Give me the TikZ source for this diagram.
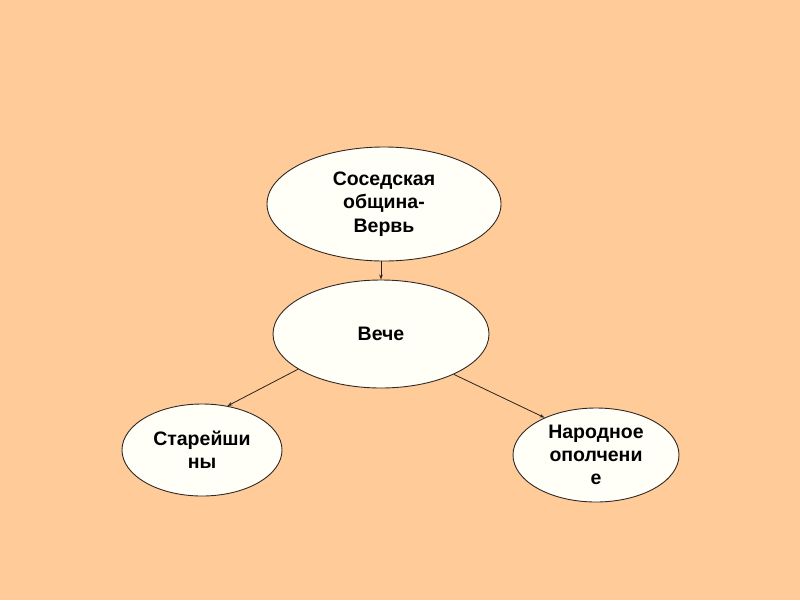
\documentclass[tikz,border=0pt]{standalone}
\usepackage{fontspec}
\setmainfont{Liberation Sans}
\usetikzlibrary{shapes.geometric,arrows.meta}
\definecolor{peach}{RGB}{255,204,153}
\definecolor{cream}{RGB}{255,255,248}
\definecolor{edge}{RGB}{50,40,35}
\tikzset{
  oval/.style={ellipse, draw=edge, line width=0.9pt, fill=cream, inner sep=0pt, align=center,
    font=\fontsize{19.5}{23.3}\selectfont\bfseries},
  link/.style={draw=edge!85!black, line width=0.8pt, -{Stealth[length=5pt,width=3.5pt]}}
}
\begin{document}
\begin{tikzpicture}[x=1pt,y=-1pt]
\fill[peach] (0,0) rectangle (800,600);
\useasboundingbox (0,0) rectangle (800,600);
\node[oval, minimum width=234pt, minimum height=114pt] (verv) at (384,204) {Соседская\\община-\\Вервь};
\node[oval, minimum width=216pt, minimum height=108pt] (veche) at (381,334) {Вече};
\node[oval, minimum width=160pt, minimum height=92pt] (elder) at (202,450) {Старейши\\ны};
\node[oval, minimum width=166pt, minimum height=94pt] (army) at (596,455) {Народное\\ополчени\\е};
\draw[link] (veche.north |- verv.south) -- (veche.north);
\draw[link] (veche.203) -- (elder.60);
\draw[link] (veche.331) -- (army.144);
\end{tikzpicture}
\end{document}
